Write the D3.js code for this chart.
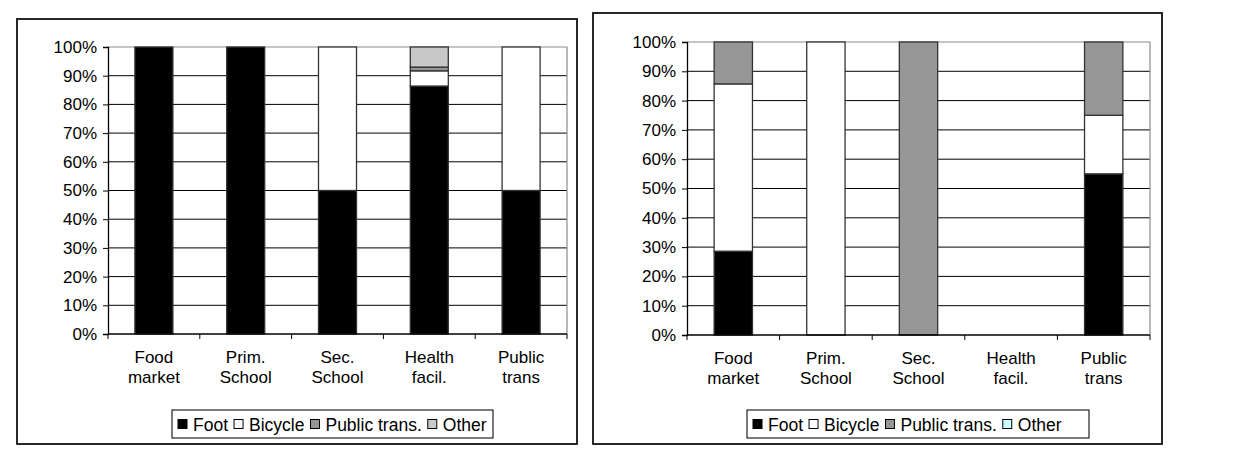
<!DOCTYPE html>
<html>
<head>
<meta charset="utf-8">
<script src="https://cdn.jsdelivr.net/npm/d3@7"></script>
<style>
  html, body { margin: 0; padding: 0; background: #fff; }
  svg { display: block; font-family: "Liberation Sans", Arial, sans-serif; }
</style>
</head>
<body>
<svg id="chart" width="1233" height="450"></svg>
<script>
// Trip destinations and travel modes
const categories = ["Food market", "Prim. School", "Sec. School", "Health facil.", "Public trans"];
const modes = ["Foot", "Bicycle", "Public trans.", "Other"];
const yTicks = [0, 10, 20, 30, 40, 50, 60, 70, 80, 90, 100];

// Left panel: share of trips per mode (%)
const leftFoot    = [100, 100, 50, 86.4, 50];
const leftBicycle = [0, 0, 50, 5.3, 50];
const leftPublic  = [0, 0, 0, 1.3, 0];
const leftOther   = [0, 0, 0, 7.0, 0];

// Right panel: share of trips per mode (%)
const rightFoot    = [28.6, 0, 0, 0, 55];
const rightBicycle = [57.1, 100, 0, 0, 20];
const rightPublic  = [14.3, 0, 100, 0, 25];
const rightOther   = [0, 0, 0, 0, 0];

const leftColors  = ["#000000", "#ffffff", "#969696", "#c8c8c8"];
const rightColors = ["#000000", "#ffffff", "#969696", "#ccffff"];

const svg = d3.select("#chart");

function rowsFrom(series) {
  return categories.map((c, i) => {
    const row = { category: c };
    modes.forEach((m, k) => { row[m] = series[k][i]; });
    return row;
  });
}

function drawPanel(cfg) {
  const g = svg.append("g");

  // outer chart frame
  g.append("rect")
    .attr("x", cfg.frame[0]).attr("y", cfg.frame[1])
    .attr("width", cfg.frame[2] - cfg.frame[0]).attr("height", cfg.frame[3] - cfg.frame[1])
    .attr("fill", "#fff").attr("stroke", "#111").attr("stroke-width", 1.8);

  const [x0, y0, x1, y1] = cfg.plot; // left, top, right, bottom
  const x = d3.scaleBand().domain(categories).range([x0, x1]).paddingInner(0.586).paddingOuter(0.293);
  const y = d3.scaleLinear().domain([0, 100]).range([y1, y0]);

  // gridlines
  g.append("g").selectAll("line")
    .data(yTicks.filter(t => t > 0 && t < 100))
    .join("line")
    .attr("x1", x0).attr("x2", x1)
    .attr("y1", d => y(d)).attr("y2", d => y(d))
    .attr("stroke", "#000").attr("stroke-width", 1);

  // plot-area border (top and right)
  g.append("path")
    .attr("d", `M${x0},${y(100)}H${x1}V${y(0)}`)
    .attr("fill", "none").attr("stroke", "#8c8c8c").attr("stroke-width", 1.2);

  // stacked bars
  const stacked = d3.stack().keys(modes)(rowsFrom(cfg.series));
  g.append("g").selectAll("g")
    .data(stacked)
    .join("g")
    .attr("fill", (d, k) => cfg.colors[k])
    .selectAll("rect")
    .data(d => d.filter(p => p[1] - p[0] > 0))
    .join("rect")
    .attr("x", d => x(d.data.category))
    .attr("width", x.bandwidth())
    .attr("y", d => y(d[1]))
    .attr("height", d => y(d[0]) - y(d[1]))
    .attr("stroke", "#333").attr("stroke-width", 1.3);

  // y axis
  const yAxis = g.append("g")
    .attr("transform", `translate(${x0},0)`)
    .call(d3.axisLeft(y).tickValues(yTicks).tickFormat(d => d + "%").tickSize(5).tickPadding(6));
  yAxis.select(".domain").attr("stroke", "#000").attr("stroke-width", 1.3);
  yAxis.selectAll(".tick line").attr("stroke", "#000");
  yAxis.selectAll(".tick text")
    .attr("font-family", "Liberation Sans, Arial, sans-serif")
    .attr("font-size", 17).attr("fill", "#000");

  // x axis baseline with category separators
  const step = x.step();
  g.append("line")
    .attr("x1", x0).attr("x2", x1).attr("y1", y(0)).attr("y2", y(0))
    .attr("stroke", "#000").attr("stroke-width", 1.3);
  g.append("g").selectAll("line")
    .data(d3.range(categories.length + 1))
    .join("line")
    .attr("x1", i => x0 + i * step).attr("x2", i => x0 + i * step)
    .attr("y1", y(0)).attr("y2", y(0) + 5)
    .attr("stroke", "#000");

  // category labels (two lines)
  const labels = g.append("g").selectAll("text")
    .data(categories)
    .join("text")
    .attr("text-anchor", "middle")
    .attr("font-size", 17)
    .attr("fill", "#000")
    .attr("transform", d => `translate(${x(d) + x.bandwidth() / 2},${y(0) + 29})`);
  labels.selectAll("tspan")
    .data(d => d.split(" "))
    .join("tspan")
    .attr("x", 0)
    .attr("dy", (d, i) => i === 0 ? 0 : 20)
    .text(d => d);

  // legend
  const [lx0, ly0, lx1, ly1] = cfg.legend;
  g.append("rect")
    .attr("x", lx0).attr("y", ly0).attr("width", lx1 - lx0).attr("height", ly1 - ly0)
    .attr("fill", "#fff").attr("stroke", "#222").attr("stroke-width", 1.2);
  const leg = g.append("g").attr("font-size", 17.5).attr("fill", "#000");
  let cx = lx0 + 6;
  const cy = (ly0 + ly1) / 2;
  modes.forEach((m, k) => {
    leg.append("rect")
      .attr("x", cx).attr("y", cy - 4.5).attr("width", 9).attr("height", 9)
      .attr("fill", cfg.colors[k]).attr("stroke", "#000").attr("stroke-width", 1);
    const t = leg.append("text")
      .attr("x", cx + 15).attr("y", cy + 6.5)
      .text(m);
    cx += 15 + t.node().getComputedTextLength() + 6;
  });
}

drawPanel({
  frame: [17, 19, 577, 444],
  plot: [108, 47, 567, 334],
  legend: [172, 410, 493, 438],
  series: [leftFoot, leftBicycle, leftPublic, leftOther],
  colors: leftColors
});

drawPanel({
  frame: [593, 13, 1162, 444],
  plot: [687, 42, 1150, 335],
  legend: [747, 410, 1089, 438],
  series: [rightFoot, rightBicycle, rightPublic, rightOther],
  colors: rightColors
});
</script>
</body>
</html>
